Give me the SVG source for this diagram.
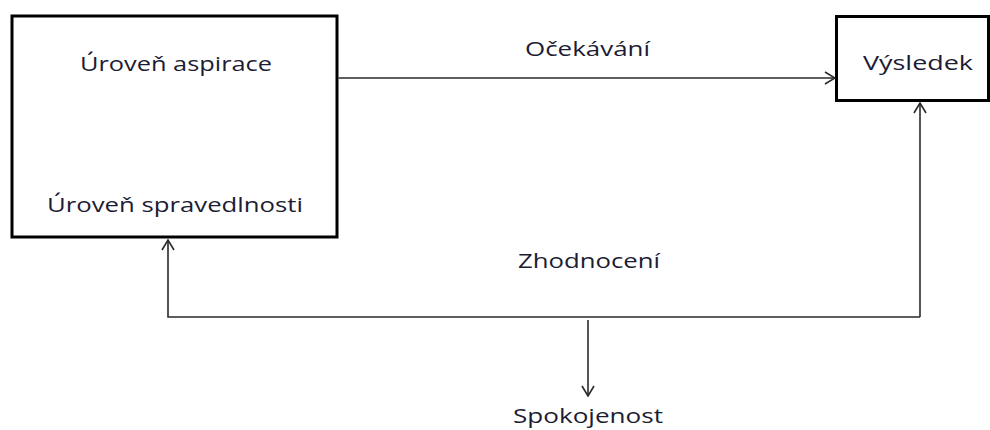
<svg xmlns="http://www.w3.org/2000/svg" width="990" height="430" viewBox="0 0 990 430">
  <style>
    .box { fill: #ffffff; stroke: #000000; stroke-width: 3; }
    .lbl { font-family: "Open Sans", "Liberation Sans", sans-serif; font-size: 20px; fill: #1c1c34; }
    .wire { fill: none; stroke: #2a2a2a; stroke-width: 1.6; }
  </style>
  <defs>
    <marker id="open" viewBox="0 0 12 14" refX="11" refY="7" markerWidth="12" markerHeight="14" markerUnits="userSpaceOnUse" orient="auto">
      <path d="M1,1 L11,7 L1,13" fill="none" stroke="#2a2a2a" stroke-width="1.6"/>
    </marker>
  </defs>
  <rect width="990" height="430" fill="#ffffff"/>

  <g id="aspirace">
    <rect class="box" x="12" y="16" width="325" height="221"/>
    <text class="lbl" x="80" y="71" textLength="192" lengthAdjust="spacingAndGlyphs">Úroveň aspirace</text>
    <text class="lbl" x="47" y="212" textLength="256" lengthAdjust="spacingAndGlyphs">Úroveň spravedlnosti</text>
  </g>

  <g id="vysledek">
    <rect class="box" x="836.5" y="16.5" width="152" height="84"/>
    <text class="lbl" x="863" y="70" textLength="110" lengthAdjust="spacingAndGlyphs">Výsledek</text>
  </g>

  <g id="connectors">
    <!-- expectation: aspiration box to outcome -->
    <line class="wire" x1="338.5" y1="78" x2="835" y2="78" marker-end="url(#open)"/>
    <!-- evaluation loop back from outcome to the aspiration box -->
    <path class="wire" d="M920,317 L920,103" marker-end="url(#open)"/>
    <path class="wire" d="M920,317 L168,317 L168,240" marker-end="url(#open)"/>
    <!-- satisfaction branch -->
    <path class="wire" d="M588,320 L588,396" marker-end="url(#open)"/>
  </g>

  <g id="labels">
    <text class="lbl" x="525" y="56" textLength="125" lengthAdjust="spacingAndGlyphs">Očekávání</text>
    <text class="lbl" x="518" y="268" textLength="142" lengthAdjust="spacingAndGlyphs">Zhodnocení</text>
    <text class="lbl" x="513" y="423" textLength="150" lengthAdjust="spacingAndGlyphs">Spokojenost</text>
  </g>
</svg>
